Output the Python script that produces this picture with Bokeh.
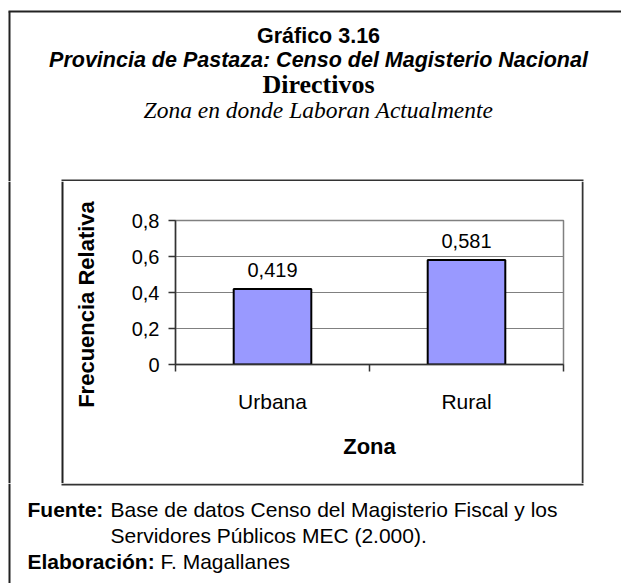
import math
from bokeh.plotting import figure
from bokeh.layouts import column, row
from bokeh.models import (FactorRange, Range1d, LinearAxis, FixedTicker, ColumnDataSource,
                          LabelSet)
from bokeh.embed import file_html
from bokeh.resources import INLINE
from bokeh.core.properties import value

# ---------------- data ----------------
zonas = ["Urbana", "Rural"]
frecuencias = [0.419, 0.581]
y_ticks = [0, 0.2, 0.4, 0.6, 0.8]
y_tick_labels = ["0", "0,2", "0,4", "0,6", "0,8"]
etiquetas = [f"{v:.3f}".replace(".", ",") for v in frecuencias]
eje_x_titulo = "Zona"
eje_y_titulo = "Frecuencia Relativa"

titulos = ["Gráfico 3.16",
           "Provincia de Pastaza: Censo del Magisterio Nacional",
           "Directivos",
           "Zona en donde Laboran Actualmente"]
fuente_lbl = "Fuente:"
fuente_txt = ["Base de datos Censo del Magisterio Fiscal y los",
              "Servidores Públicos MEC (2.000)."]
elab_lbl = "Elaboración:"
elab_txt = "F. Magallanes"

SANS = "Liberation Sans"
SERIF = "Liberation Serif"
DARK = "#333333"
FRAME = "#222222"

# ---------------- page geometry (pixels) ----------------
W, H = 621, 583
TOP_H = 181        # y 0..181
MID_H = 302        # y 181..483
BOT_H = H - TOP_H - MID_H
LEFT_W = 105       # x 0..105
CHART_W = 476      # x 105..581
RIGHT_W = W - LEFT_W - CHART_W
FL, FT, FR, FB = 175, 220, 563, 364   # plot area
CX0, CY0 = LEFT_W, TOP_H
OUT_X, OUT_Y = 9, 11                  # outer frame
BX0, BY0, BX1, BY1 = 62, 180, 582, 483  # inner chart box
YMAX = 0.8


def blank(w, h):
    f = figure(width=w, height=h, x_range=Range1d(0, w), y_range=Range1d(h, 0),
               x_axis_type=None, y_axis_type=None, output_backend="svg",
               toolbar_location=None, min_border=0, frame_align=False)
    f.outline_line_color = None
    f.background_fill_color = "white"
    f.border_fill_color = "white"
    return f


# ---------------- title strip ----------------
top = blank(W, TOP_H)
top.segment(x0=[OUT_X - 1, OUT_X], y0=[OUT_Y, OUT_Y], x1=[W, OUT_X], y1=[OUT_Y, TOP_H],
            line_color=FRAME, line_width=2)
top.segment(x0=[BX0 - 1], y0=[BY0], x1=[BX1 + 1], y1=[BY0], line_color=DARK, line_width=2)
TCX = 318
title_specs = [
    (titulos[0], SANS, "bold", "21.5px", 35),
    (titulos[1], SANS, "bold italic", "21.5px", 59),
    (titulos[2], SERIF, "bold", "26px", 84),
    (titulos[3], SERIF, "italic", "23.5px", 109),
]
for txt, font, style, size, base in title_specs:
    top.text(x=[TCX], y=[base], text=[txt], text_align="center", text_baseline="alphabetic",
             text_font=value(font), text_font_style=value(style),
             text_font_size=value(size), text_color="black")

# ---------------- left / right strips ----------------
left = blank(LEFT_W, MID_H)
left.segment(x0=[OUT_X, BX0], y0=[0, 0], x1=[OUT_X, BX0], y1=[MID_H, BY1 - CY0 + 1],
             line_color=FRAME, line_width=2)
left.text(x=[86], y=[304 - CY0], text=[eje_y_titulo], angle=math.pi / 2,
          text_align="center", text_baseline="middle",
          text_font=value(SANS), text_font_style=value("bold"),
          text_font_size=value("22px"), text_color="black")
right = blank(RIGHT_W, MID_H)
right.segment(x0=[BX1 - CX0 - CHART_W], y0=[0], x1=[BX1 - CX0 - CHART_W], y1=[BY1 - CY0 + 1],
              line_color=DARK, line_width=2)

# ---------------- chart ----------------
p = figure(width=CHART_W, height=MID_H,
           x_range=FactorRange(*zonas), y_range=Range1d(0, YMAX),
           x_axis_type=None, output_backend="svg", toolbar_location=None,
           frame_align=False,
           min_border_left=FL - CX0, min_border_right=CX0 + CHART_W - FR,
           min_border_top=FT - CY0, min_border_bottom=CY0 + MID_H - FB)
p.background_fill_color = "white"
p.border_fill_color = "white"
p.outline_line_color = "#808080"
p.outline_line_width = 1.5

src = ColumnDataSource(dict(zona=zonas, frecuencia=frecuencias, etiqueta=etiquetas))
p.vbar(x="zona", top="frecuencia", width=0.4, source=src,
       fill_color="#9999FF", line_color="black", line_width=2)
p.add_layout(LabelSet(x="zona", y="frecuencia", text="etiqueta", source=src,
                      text_align="center", text_baseline="alphabetic", y_offset=12,
                      text_font=value(SANS), text_font_size=value("20px"),
                      text_color="black"))

n = len(zonas)
xaxis = LinearAxis(ticker=FixedTicker(ticks=[i + 0.5 for i in range(n)],
                                      minor_ticks=[i for i in range(n + 1)]),
                   major_label_overrides={i + 0.5: z for i, z in enumerate(zonas)})
xaxis.axis_line_color = DARK
xaxis.axis_line_width = 1.5
xaxis.major_tick_out = 0
xaxis.major_tick_in = 0
xaxis.major_tick_line_color = None
xaxis.minor_tick_out = 7
xaxis.minor_tick_in = 0
xaxis.minor_tick_line_color = DARK
xaxis.minor_tick_line_width = 1.5
xaxis.major_label_text_font = SANS
xaxis.major_label_text_font_size = "21px"
xaxis.major_label_text_color = "black"
xaxis.major_label_standoff = 18
xaxis.axis_label = eje_x_titulo
xaxis.axis_label_text_font = SANS
xaxis.axis_label_text_font_style = "bold"
xaxis.axis_label_text_font_size = "22px"
xaxis.axis_label_text_color = "black"
xaxis.axis_label_standoff = 18
p.add_layout(xaxis, "below")

ya = p.yaxis[0]
ya.ticker = FixedTicker(ticks=y_ticks)
ya.major_label_overrides = dict(zip(y_ticks, y_tick_labels))
ya.axis_line_color = DARK
ya.axis_line_width = 1.5
ya.major_tick_in = 0
ya.major_tick_out = 7
ya.major_tick_line_color = DARK
ya.major_tick_line_width = 1.5
ya.minor_tick_line_color = None
ya.major_label_text_font = SANS
ya.major_label_text_font_size = "20px"
ya.major_label_text_color = "black"
ya.major_label_standoff = 9

p.xgrid.visible = False
p.ygrid.grid_line_color = "#808080"
p.ygrid.grid_line_width = 1

# ---------------- footer strip ----------------
bot = blank(W, BOT_H)
bot.segment(x0=[OUT_X], y0=[0], x1=[OUT_X], y1=[BOT_H], line_color=FRAME, line_width=2)
bot.segment(x0=[BX0 - 1], y0=[1], x1=[BX1 + 1], y1=[1], line_color=DARK, line_width=2)
FOOT_SIZE = "21px"
footer = [
    (fuente_lbl, 27, "bold", 509),
    (fuente_txt[0], 110, "normal", 509),
    (fuente_txt[1], 110, "normal", 535),
    (elab_lbl, 27, "bold", 561),
    (elab_txt, 160, "normal", 561),
]
for txt, X, style, base in footer:
    bot.text(x=[X], y=[base - (TOP_H + MID_H)], text=[txt], text_align="left",
             text_baseline="alphabetic",
             text_font=value(SANS), text_font_style=value(style),
             text_font_size=value(FOOT_SIZE), text_color="black")

layout = column(top, row(left, p, right), bot)
open("out.html", "w").write(file_html(layout, INLINE))
